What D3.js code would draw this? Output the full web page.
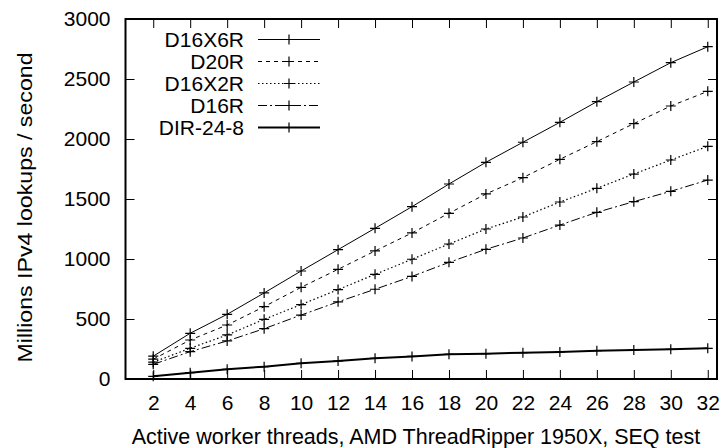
<!DOCTYPE html>
<html><head><meta charset="utf-8">
<script src="https://cdn.jsdelivr.net/npm/d3@7"></script>
<style>body{margin:0;background:#fff}svg{display:block}text{font-family:"Liberation Sans",Arial,sans-serif}</style>
</head><body>
<svg id="c" width="725" height="448"></svg>
<script>
const threads = [2,4,6,8,10,12,14,16,18,20,22,24,26,28,30,32];
const seriesNames = ["D16X6R","D20R","D16X2R","D16R","DIR-24-8"];
const d16x6r = [190,381,539,717,900,1078,1256,1436,1625,1806,1973,2139,2311,2475,2636,2769];
const d20r   = [165,325,450,603,764,914,1067,1217,1381,1542,1678,1831,1978,2128,2275,2397];
const d16x2r = [140,256,367,497,620,745,872,998,1125,1250,1350,1475,1589,1708,1825,1939];
const d16r   = [122,228,317,419,533,643,748,855,972,1081,1175,1283,1389,1478,1564,1658];
const dir248 = [22,53,81,103,131,150,172,188,206,211,219,225,236,242,247,256];
const yTicks = [0,500,1000,1500,2000,2500,3000];
const yLabel = "Millions IPv4 lookups / second";
const xLabel = "Active worker threads, AMD ThreadRipper 1950X, SEQ test";

const allSeries = [d16x6r,d20r,d16x2r,d16r,dir248];
const dashes = ["none","4,4","1.5,2.5","9,3,2,3","none"];
const widths = [1,1,1.2,1,2];

const svg = d3.select("#c");
const L=125.5, R=717, T=19, B=379;
const x = d3.scaleLinear().domain([0.5,32.5]).range([L,R]);
const y = d3.scaleLinear().domain([0,3000]).range([B,T]);
const fs = 21;

const g = svg.append("g");
const ax = (sel)=>sel.call(s=>s.select(".domain").remove()).selectAll("line").attr("stroke","#000").attr("stroke-width",1);
g.append("g").attr("transform",`translate(0,${B})`)
 .call(d3.axisBottom(x).tickValues(threads).tickFormat(d3.format("d")).tickSizeInner(-9).tickSizeOuter(0).tickPadding(16))
 .call(ax);
g.append("g").attr("transform",`translate(0,${T})`)
 .call(d3.axisTop(x).tickValues(threads).tickSizeInner(-9).tickSizeOuter(0).tickFormat(""))
 .call(ax);
g.append("g").attr("transform",`translate(${L},0)`)
 .call(d3.axisLeft(y).tickValues(yTicks).tickFormat(d3.format("d")).tickSizeInner(-9).tickSizeOuter(0).tickPadding(15))
 .call(ax);
g.append("g").attr("transform",`translate(${R},0)`)
 .call(d3.axisRight(y).tickValues(yTicks).tickSizeInner(-9).tickSizeOuter(0).tickFormat(""))
 .call(ax);
g.selectAll(".tick text").attr("font-size",fs).attr("font-family","Liberation Sans, Arial, sans-serif").attr("fill","#000");

const line = d3.line().x((d,i)=>x(threads[i])).y(d=>y(d));
allSeries.forEach((vals,k)=>{
  g.append("path").datum(vals).attr("d",line).attr("fill","none").attr("stroke","#000")
   .attr("stroke-width",widths[k]).attr("stroke-dasharray",dashes[k]);
  g.append("g").selectAll("path").data(vals).join("path")
   .attr("d",(d,i)=>{const cx=x(threads[i]),cy=y(d);return `M${cx-5},${cy}H${cx+5}M${cx},${cy-5}V${cy+5}`;})
   .attr("stroke","#000").attr("stroke-width",1.2);
});

g.append("rect").attr("x",L).attr("y",T).attr("width",R-L).attr("height",B-T)
 .attr("fill","none").attr("stroke","#000").attr("stroke-width",2);

seriesNames.forEach((n,k)=>{
  const ly = 39.5 + k*22;
  g.append("text").attr("x",244).attr("y",ly).attr("dy","0.35em").attr("text-anchor","end")
   .attr("font-size",fs).text(n);
  g.append("line").attr("x1",258).attr("x2",320).attr("y1",ly).attr("y2",ly)
   .attr("stroke","#000").attr("stroke-width",widths[k]).attr("stroke-dasharray",dashes[k]);
  g.append("path").attr("d",`M284,${ly}H294M289,${ly-5}V${ly+5}`).attr("stroke","#000").attr("stroke-width",1.2);
});

svg.append("text").attr("transform",`translate(32,207.5) rotate(-90)`).attr("text-anchor","middle")
 .attr("font-size",20.5).attr("textLength",310).attr("lengthAdjust","spacingAndGlyphs").text(yLabel);
svg.append("text").attr("x",416).attr("y",444).attr("text-anchor","middle")
 .attr("font-size",21.5).text(xLabel);
</script>
</body></html>
